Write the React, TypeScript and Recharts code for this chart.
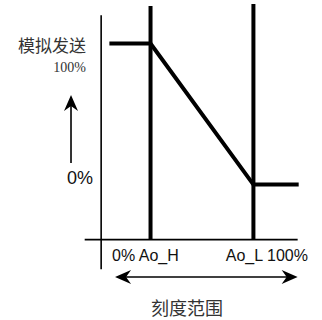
import { LineChart, Line, XAxis, YAxis, ReferenceLine, ReferenceDot } from 'recharts';

// main signal: flat at 100% until Ao_H, falls to 0% at Ao_L, then flat
const signalX = [-40, 0, 100, 144];
const signalY = [100, 100, 0, 0];

// the two scale markers
const markerX = [0, 100];
const markerTop = [126.6, 128];

// axis frame
const axisOriginX = -48;
const axisOriginY = -39;
const axisXRange = [-64, 143];
const axisYRange = [-60, 120];

// arrows
const upArrow = { x: -77.3, from: 15.3, to: 63.5 };
const spanArrow = { y: -65.5, from: -34.5, to: 143 };

// text labels
const labels = [
  { text: '模拟发送', x: -62.7, y: 99, anchor: 'end', font: '"Noto Sans CJK SC"', size: 17, color: '#333' },
  { text: '100%', x: -62.7, y: 83.3, anchor: 'end', font: '"Liberation Serif", serif', size: 14, color: '#333' },
  { text: '0%', x: -68.5, y: 4.7, anchor: 'middle', font: '"Liberation Sans", Arial, sans-serif', size: 18, color: '#111' },
  { text: '0% Ao_H', x: -37.4, y: -50, anchor: 'start', font: '"Liberation Sans", Arial, sans-serif', size: 16, color: '#111' },
  { text: 'Ao_L 100%', x: 153, y: -50, anchor: 'end', font: '"Liberation Sans", Arial, sans-serif', size: 16, color: '#111' },
  { text: '刻度范围', x: 35.5, y: -86.9, anchor: 'middle', font: '"Noto Sans CJK SC"', size: 18, color: '#333' },
];

const data = signalX.map((x, i) => ({ x, y: signalY[i] }));

function arrowHead(dir: 'up' | 'left' | 'right') {
  return (p: any) => {
    const { cx, cy } = p;
    const rot = dir === 'up' ? -90 : dir === 'left' ? 180 : 0;
    return (
      <path
        d="M0,0 L-16,-7 L-11,0 L-16,7 Z"
        fill="#000"
        transform={`translate(${cx},${cy}) rotate(${rot})`}
      />
    );
  };
}

function textShape(l: (typeof labels)[number]) {
  return (p: any) => (
    <text
      x={p.cx}
      y={p.cy}
      textAnchor={l.anchor}
      dominantBaseline="central"
      fontFamily={l.font}
      fontSize={l.size}
      fill={l.color}
    >
      {l.text}
    </text>
  );
}

export default function App() {
  return (
    <div style={{ position: 'absolute', left: 0, top: 0, width: 322, height: 320, background: '#fff' }}>
      <LineChart width={322} height={320} data={data} margin={{ top: 4, right: 12, bottom: 0, left: 60 }}>
        <XAxis dataKey="x" type="number" domain={[-88, 155]} hide />
        <YAxis type="number" domain={[-96, 128]} hide />

        {/* axes */}
        <ReferenceLine
          segment={[{ x: axisOriginX, y: axisYRange[0] }, { x: axisOriginX, y: axisYRange[1] }]}
          stroke="#000"
          strokeWidth={1.6}
        />
        <ReferenceLine
          segment={[{ x: axisXRange[0], y: axisOriginY }, { x: axisXRange[1], y: axisOriginY }]}
          stroke="#000"
          strokeWidth={1.6}
        />

        {/* Ao_H / Ao_L markers */}
        {markerX.map((x, i) => (
          <ReferenceLine
            key={x}
            segment={[{ x, y: axisOriginY }, { x, y: markerTop[i] }]}
            stroke="#000"
            strokeWidth={4}
          />
        ))}

        <Line
          type="linear"
          dataKey="y"
          stroke="#000"
          strokeWidth={4}
          dot={false}
          isAnimationActive={false}
        />

        {/* up arrow */}
        <ReferenceLine
          segment={[{ x: upArrow.x, y: upArrow.from }, { x: upArrow.x, y: upArrow.to - 5 }]}
          stroke="#000"
          strokeWidth={1.6}
        />
        <ReferenceDot x={upArrow.x} y={upArrow.to} r={1} shape={arrowHead('up')} />

        {/* span arrow */}
        <ReferenceLine
          segment={[{ x: spanArrow.from + 5, y: spanArrow.y }, { x: spanArrow.to - 5, y: spanArrow.y }]}
          stroke="#000"
          strokeWidth={1.6}
        />
        <ReferenceDot x={spanArrow.from} y={spanArrow.y} r={1} shape={arrowHead('left')} />
        <ReferenceDot x={spanArrow.to} y={spanArrow.y} r={1} shape={arrowHead('right')} />

        {labels.map((l) => (
          <ReferenceDot key={l.text} x={l.x} y={l.y} r={1} shape={textShape(l)} />
        ))}
      </LineChart>
    </div>
  );
}
